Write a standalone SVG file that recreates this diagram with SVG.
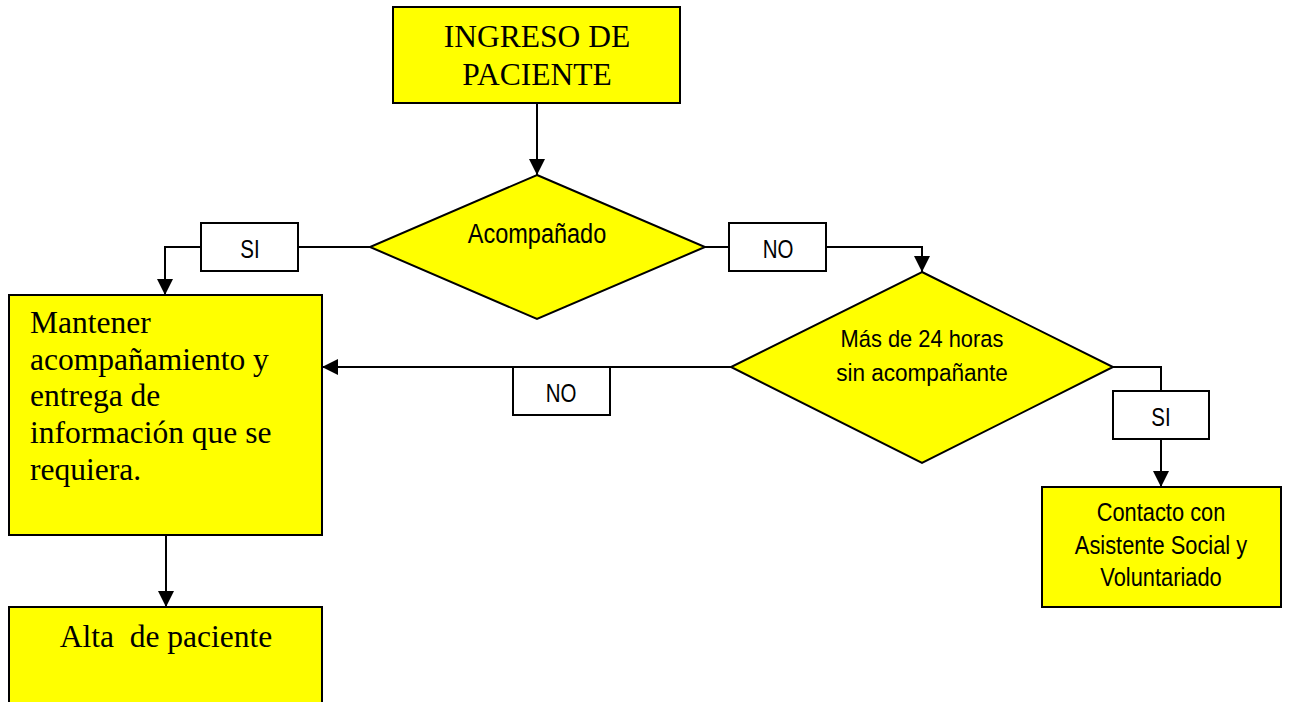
<svg xmlns="http://www.w3.org/2000/svg" width="1289" height="702" viewBox="0 0 1289 702">
<style>
.box{fill:#FFFF00;stroke:#000;stroke-width:2}
.lbl{fill:#fff;stroke:#000;stroke-width:2}
.serif{font-family:"Liberation Serif","Times New Roman",serif;font-size:31.5px;fill:#000}
.sans{font-family:"Liberation Sans",Arial,sans-serif;fill:#000;text-anchor:middle}
.c{text-anchor:middle}
.ln{fill:none;stroke:#000;stroke-width:2}
</style>
<defs>
<marker id="arr" markerUnits="userSpaceOnUse" markerWidth="17" markerHeight="17" refX="16" refY="8" orient="auto">
<path d="M0,0 L16,8 L0,16 z" fill="#000"/>
</marker>
</defs>
<rect width="1289" height="702" fill="#fff"/>

<g id="connectors">
<line class="ln" x1="537" y1="103" x2="537" y2="175" marker-end="url(#arr)"/>
<line class="ln" x1="370" y1="247" x2="298" y2="247"/>
<polyline class="ln" points="201,247 165,247 165,295" marker-end="url(#arr)"/>
<line class="ln" x1="705" y1="247" x2="729" y2="247"/>
<polyline class="ln" points="826,247 922,247 922,272" marker-end="url(#arr)"/>
<polyline class="ln" points="1113,367 1161,367 1161,391"/>
<line class="ln" x1="1161" y1="439" x2="1161" y2="487" marker-end="url(#arr)"/>
<line class="ln" x1="166" y1="535" x2="166" y2="607" marker-end="url(#arr)"/>
</g>

<g id="n-ingreso">
<rect class="box" x="393" y="7" width="287" height="96"/>
<text class="serif c" x="537" y="47">INGRESO DE</text>
<text class="serif c" x="537" y="85">PACIENTE</text>
</g>

<g id="n-acompanado">
<polygon class="box" points="537,175 705,247 537,319 370,247"/>
<text class="sans" font-size="27" transform="translate(537,243) scale(0.87,1)">Acompañado</text>
</g>

<g id="l-si1">
<rect class="lbl" x="201" y="223" width="97" height="48"/>
<text class="sans" font-size="25" transform="translate(250,258) scale(0.82,1)">SI</text>
</g>

<g id="l-no1">
<rect class="lbl" x="729" y="223" width="97" height="48"/>
<text class="sans" font-size="25" transform="translate(778,258) scale(0.82,1)">NO</text>
</g>

<g id="n-mas24">
<polygon class="box" points="922,272 1113,367 922,463 731,367"/>
<text class="sans" font-size="23.5" transform="translate(922,347) scale(0.93,1)">Más de 24 horas</text>
<text class="sans" font-size="23.5" transform="translate(922,381) scale(0.96,1)">sin acompañante</text>
</g>

<g id="l-no2">
<rect class="lbl" x="513" y="367" width="97" height="48"/>
<text class="sans" font-size="25" transform="translate(561,402) scale(0.82,1)">NO</text>
</g>
<g id="connector-no2">
<line class="ln" x1="731" y1="367" x2="322" y2="367" marker-end="url(#arr)"/>
</g>

<g id="l-si2">
<rect class="lbl" x="1113" y="391" width="96" height="48"/>
<text class="sans" font-size="25" transform="translate(1161,426) scale(0.82,1)">SI</text>
</g>

<g id="n-mantener">
<rect class="box" x="9" y="295" width="313" height="240"/>
<text class="serif" x="30" y="333">Mantener</text>
<text class="serif" x="30" y="370">acompañamiento y</text>
<text class="serif" x="30" y="406">entrega de</text>
<text class="serif" x="30" y="443">información que se</text>
<text class="serif" x="30" y="480">requiera.</text>
</g>

<g id="n-alta">
<rect class="box" x="9" y="607" width="313" height="110"/>
<text class="serif c" x="166" y="647" xml:space="preserve">Alta  de paciente</text>
</g>

<g id="n-contacto">
<rect class="box" x="1042" y="487" width="239" height="120"/>
<text class="sans" font-size="26" transform="translate(1161,521) scale(0.84,1)">Contacto con</text>
<text class="sans" font-size="26" transform="translate(1161,554) scale(0.84,1)">Asistente Social y</text>
<text class="sans" font-size="26" transform="translate(1161,586) scale(0.84,1)">Voluntariado</text>
</g>
</svg>
